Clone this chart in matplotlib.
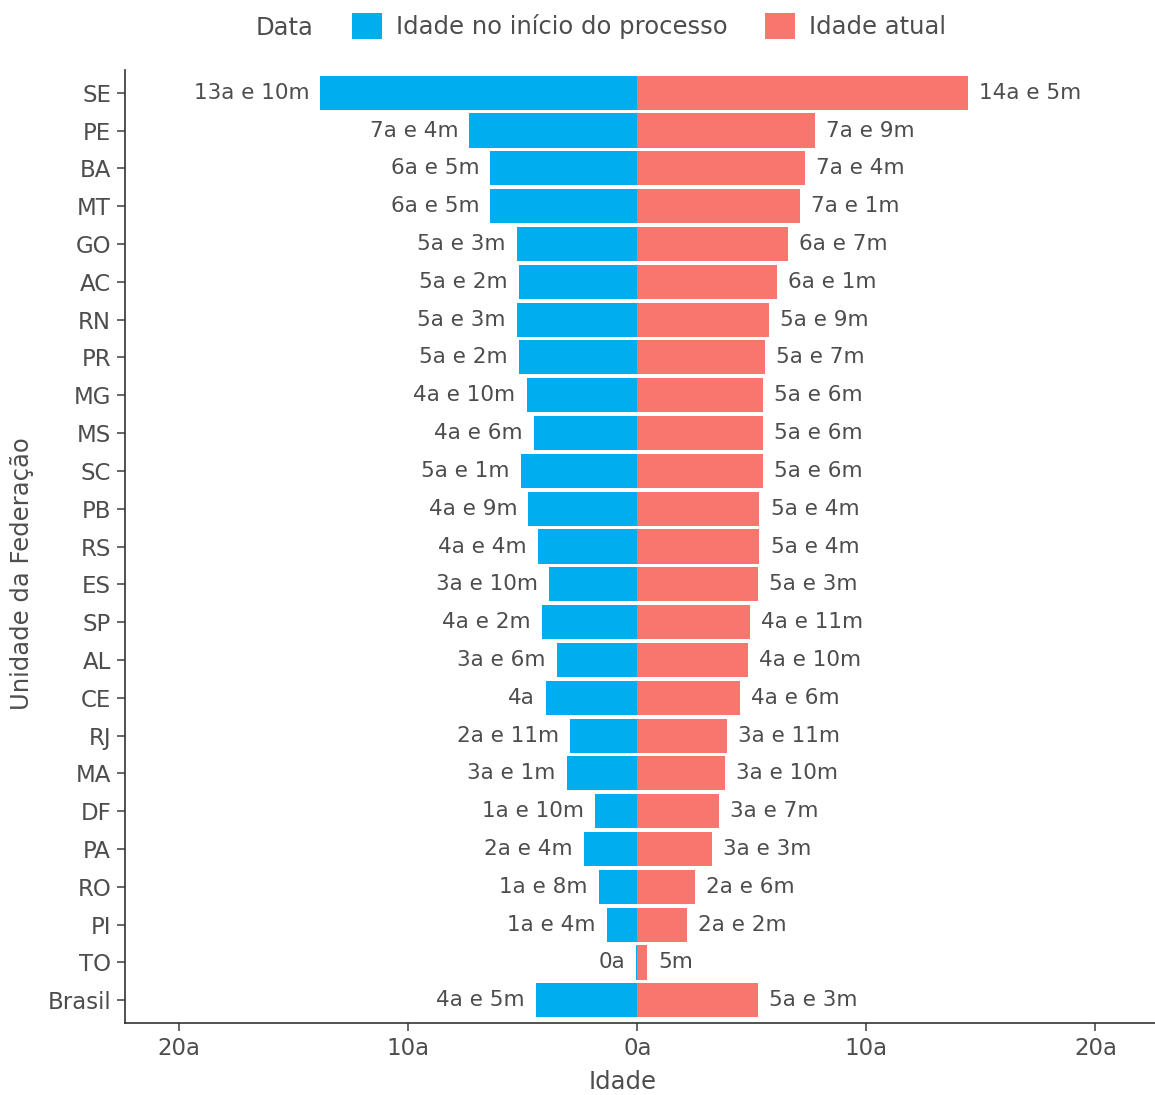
import matplotlib
matplotlib.use("Agg")
import matplotlib.pyplot as plt
from matplotlib.patches import Patch

plt.rcParams['font.family'] = ['DejaVu Sans']

ufs = ["SE", "PE", "BA", "MT", "GO", "AC", "RN", "PR", "MG", "MS", "SC", "PB", "RS",
       "ES", "SP", "AL", "CE", "RJ", "MA", "DF", "PA", "RO", "PI", "TO", "Brasil"]
# ages in months
inicio_meses = [166, 88, 77, 77, 63, 62, 63, 62, 58, 54, 61, 57, 52,
                46, 50, 42, 48, 35, 37, 22, 28, 20, 16, 0.4, 53]
atual_meses = [173, 93, 88, 85, 79, 73, 69, 67, 66, 66, 66, 64, 64,
               63, 59, 58, 54, 47, 46, 43, 39, 30, 26, 5, 63]
inicio_labels = ["13a e 10m", "7a e 4m", "6a e 5m", "6a e 5m", "5a e 3m", "5a e 2m", "5a e 3m",
                 "5a e 2m", "4a e 10m", "4a e 6m", "5a e 1m", "4a e 9m", "4a e 4m", "3a e 10m",
                 "4a e 2m", "3a e 6m", "4a", "2a e 11m", "3a e 1m", "1a e 10m", "2a e 4m",
                 "1a e 8m", "1a e 4m", "0a", "4a e 5m"]
atual_labels = ["14a e 5m", "7a e 9m", "7a e 4m", "7a e 1m", "6a e 7m", "6a e 1m", "5a e 9m",
                "5a e 7m", "5a e 6m", "5a e 6m", "5a e 6m", "5a e 4m", "5a e 4m", "5a e 3m",
                "4a e 11m", "4a e 10m", "4a e 6m", "3a e 11m", "3a e 10m", "3a e 7m", "3a e 3m",
                "2a e 6m", "2a e 2m", "5m", "5a e 3m"]
xticks = [-20, -10, 0, 10, 20]
xticklabels = ["20a", "10a", "0a", "10a", "20a"]

BLUE = "#00AEEF"
RED = "#F8766D"
TXT = "#4D4D4D"

W, H = 1155, 1095
fig = plt.figure(figsize=(W / 100, H / 100), dpi=100)
ax = fig.add_axes([125/W, 1 - 1023/H, 1030/W, (1023 - 70)/H])

n = len(ufs)
ypos = [n - 1 - i for i in range(n)]
left_vals = [-m / 12 for m in inicio_meses]
right_vals = [m / 12 for m in atual_meses]

ax.barh(ypos, left_vals, height=0.9, color=BLUE, linewidth=0)
ax.barh(ypos, right_vals, height=0.9, color=RED, linewidth=0)

fs = 15.5
tfs = 16.5
title_fs = 17.5
for y, lv, rv, ll, rl in zip(ypos, left_vals, right_vals, inicio_labels, atual_labels):
    ax.annotate(ll, (lv, y), xytext=(-8, 0), textcoords="offset points",
                ha="right", va="center", fontsize=fs, color=TXT)
    ax.annotate(rl, (rv, y), xytext=(8, 0), textcoords="offset points",
                ha="left", va="center", fontsize=fs, color=TXT)

ax.set_xlim(-22.36, 22.6)
ax.set_ylim(-0.6, n - 0.4)
ax.set_yticks(ypos)
ax.set_yticklabels(ufs)
ax.set_xticks(xticks)
ax.set_xticklabels(xticklabels)
ax.tick_params(axis="both", labelsize=tfs, colors=TXT, length=6, width=1.2, pad=4)
for s in ["top", "right"]:
    ax.spines[s].set_visible(False)
for s in ["left", "bottom"]:
    ax.spines[s].set_color("#333333")
    ax.spines[s].set_linewidth(1.2)

fig.text(623/W, 1 - 1082/H, "Idade", fontsize=title_fs, color=TXT, ha="center", va="center")
fig.text(22/W, 1 - 574/H, "Unidade da Federação", fontsize=title_fs, color=TXT,
         ha="center", va="center", rotation=90)

handles = [Patch(facecolor=BLUE, label="Idade no início do processo"),
           Patch(facecolor=RED, label="Idade atual")]
fig.text(285/W, 1 - 28/H, "Data", fontsize=title_fs, color=TXT, ha="center", va="center")
leg = fig.legend(handles=handles, loc="center left", bbox_to_anchor=(335/W, 1 - 26/H),
                 ncol=2, frameon=False, fontsize=title_fs, handlelength=1.25, handleheight=1.25,
                 columnspacing=1.55, handletextpad=0.55, borderpad=0.2)
for t in leg.get_texts():
    t.set_color(TXT)

fig.savefig("out.png", dpi=100)
